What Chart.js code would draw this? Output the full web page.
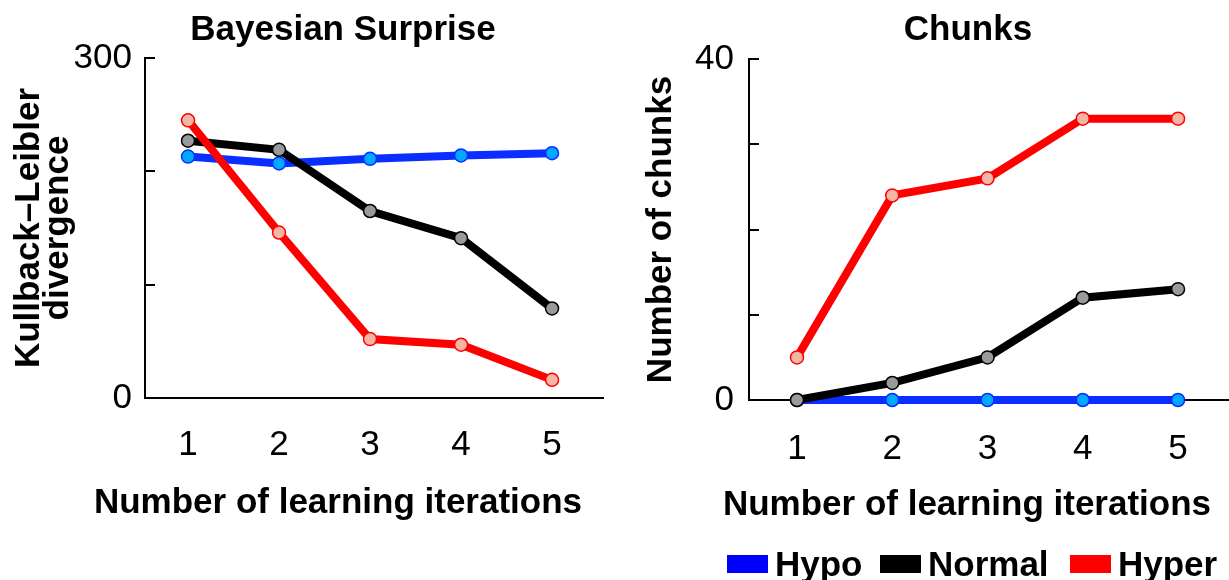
<!DOCTYPE html>
<html>
<head>
<meta charset="utf-8">
<script src="https://cdn.jsdelivr.net/npm/chart.js@4.4.1/dist/chart.umd.min.js"></script>
<style>
    html, body {
        margin: 0;
        padding: 0;
        background: #fff;
    }
    #page {
        position: relative;
        width: 1229px;
        height: 580px;
        overflow: hidden;
        font-family: "Liberation Sans", Arial, sans-serif;
    }
    .panel {
        position: absolute;
        top: 0;
    }
    .key {
        position: absolute;
        top: 546px;
        display: flex;
        align-items: center;
        font-size: 35px;
        font-weight: bold;
        color: #000;
        line-height: 1;
    }
    .key span.box {
        display: inline-block;
        width: 41px;
        height: 18px;
        margin-right: 7px;
    }
</style>
</head>
<body>
<div id="page">
    <canvas id="surprise" class="panel" style="left: 0px" width="615" height="580"></canvas>
    <canvas id="chunks" class="panel" style="left: 615px" width="614" height="580"></canvas>
    <div id="legend"></div>
</div>
<script>
const iterations = [1, 2, 3, 4, 5];

// Bayesian surprise (KL divergence) per group
const surpriseHypo = [213, 207, 211, 214, 216];
const surpriseNormal = [227, 219, 165, 141, 79];
const surpriseHyper = [245, 146, 52, 47, 16];

// number of chunks per group
const chunksHypo = [0, 0, 0, 0, 0];
const chunksNormal = [0, 2, 5, 12, 13];
const chunksHyper = [5, 24, 26, 33, 33];

// only these y ticks get a label, the others are bare marks
const surpriseLabeled = [0, 300];
const chunksLabeled = [0, 40];

const groups = ["Hypo", "Normal", "Hyper"];

const FONT = "'Liberation Sans', Arial, sans-serif";

const groupStyle = {
    Hypo: { line: "#0a2eff", point: "#00a8ff", key: "#0000ff" },
    Normal: { line: "#000000", point: "#9a9a9a", key: "#000000" },
    Hyper: { line: "#ff0000", point: "#f3b5a6", key: "#ff0000" },
};

// draws panel title and x title where the figure has them
const panelText = {
    id: "panelText",
    afterDraw(chart, args, opts) {
        const ctx = chart.ctx;
        ctx.save();
        ctx.fillStyle = "#000";
        ctx.textAlign = "center";
        ctx.textBaseline = "middle";
        (opts.items || []).forEach((item) => {
            ctx.font = "bold 35px " + FONT;
            ctx.fillText(item.text, item.x, item.y);
        });
        ctx.restore();
    },
};

function toPoints(values) {
    return values.map((y, i) => ({ x: iterations[i], y: y }));
}

function makeDataset(name, values) {
    const s = groupStyle[name];
    return {
        label: name,
        data: toPoints(values),
        borderColor: s.line,
        backgroundColor: s.line,
        borderWidth: 8,
        tension: 0,
        pointRadius: 6.5,
        pointHoverRadius: 6.5,
        pointBackgroundColor: s.point,
        pointBorderColor: s.line,
        pointBorderWidth: 1.5,
        clip: false,
    };
}

function panelOptions(cfg) {
    return {
        responsive: false,
        animation: false,
        events: [],
        layout: {
            autoPadding: false,
            padding: { top: cfg.top, right: cfg.right, left: 0, bottom: 0 },
        },
        plugins: {
            legend: { display: false },
            tooltip: { enabled: false },
            title: { display: false },
            panelText: { items: cfg.texts },
        },
        scales: {
            x: {
                type: "linear",
                min: cfg.xMin,
                max: cfg.xMax,
                afterBuildTicks: (scale) => {
                    scale.ticks = iterations.map((v) => ({ value: v }));
                },
                afterFit: (scale) => {
                    scale.height = cfg.xHeight;
                    // axis line runs to the panel edge, no room kept for labels
                    scale.paddingLeft = 0;
                    scale.paddingRight = 0;
                },
                grid: { display: false },
                border: { display: true, color: "#000", width: 2 },
                ticks: {
                    color: "#000",
                    padding: cfg.xPad,
                    maxRotation: 0,
                    autoSkip: false,
                    font: { family: FONT, size: 35, lineHeight: 1 },
                },
            },
            y: {
                min: 0,
                max: cfg.yMax,
                afterFit: (scale) => {
                    scale.width = cfg.yWidth;
                },
                grid: {
                    drawOnChartArea: false,
                    drawTicks: true,
                    tickLength: -10,
                    color: "#000",
                    lineWidth: 2,
                },
                border: { display: true, color: "#000", width: 2 },
                ticks: {
                    stepSize: cfg.yStep,
                    color: "#000",
                    padding: cfg.yPad,
                    font: { family: FONT, size: 35, lineHeight: 1 },
                    callback: (v) => (cfg.labeled.includes(v) ? String(v) : ""),
                },
                title: {
                    display: true,
                    text: cfg.yTitle,
                    color: "#000",
                    font: { family: FONT, size: 35, weight: "bold", lineHeight: 0.85 },
                    padding: { top: cfg.yTitlePad, bottom: 0 },
                },
            },
        },
    };
}

new Chart(document.getElementById("surprise"), {
    type: "line",
    data: {
        datasets: [
            makeDataset("Hyper", surpriseHyper),
            makeDataset("Normal", surpriseNormal),
            makeDataset("Hypo", surpriseHypo),
        ],
    },
    options: panelOptions({
        top: 58,
        right: 12,
        xMin: 0.527,
        xMax: 5.56,
        xHeight: 182,
        xPad: 22,
        yMax: 300,
        yStep: 100,
        yWidth: 145,
        yPad: 23,
        labeled: surpriseLabeled,
        yTitle: ["Kullback\u2013Leibler", "divergence"],
        yTitlePad: 14,
        texts: [
            { text: "Bayesian Surprise", x: 343, y: 30 },
            { text: "Number of learning iterations", x: 338, y: 503 },
        ],
    }),
    plugins: [panelText],
});

new Chart(document.getElementById("chunks"), {
    type: "line",
    data: {
        datasets: [
            makeDataset("Hyper", chunksHyper),
            makeDataset("Normal", chunksNormal),
            makeDataset("Hypo", chunksHypo),
        ],
    },
    options: panelOptions({
        top: 59,
        right: 0,
        xMin: 0.496,
        xMax: 5.535,
        xHeight: 180,
        xPad: 24,
        yMax: 40,
        yStep: 10,
        yWidth: 134,
        yPad: 25,
        labeled: chunksLabeled,
        yTitle: "Number of chunks",
        yTitlePad: 31,
        texts: [
            { text: "Chunks", x: 353, y: 30 },
            { text: "Number of learning iterations", x: 352, y: 505 },
        ],
    }),
    plugins: [panelText],
});

// legend along the bottom right, one item per group
const legend = document.getElementById("legend");
const keyLeft = { Hypo: 727, Normal: 880, Hyper: 1070 };
groups.forEach((name) => {
    const item = document.createElement("div");
    item.className = "key";
    item.style.left = keyLeft[name] + "px";
    const box = document.createElement("span");
    box.className = "box";
    box.style.background = groupStyle[name].key;
    item.appendChild(box);
    item.appendChild(document.createTextNode(name));
    legend.appendChild(item);
});
</script>
</body>
</html>
